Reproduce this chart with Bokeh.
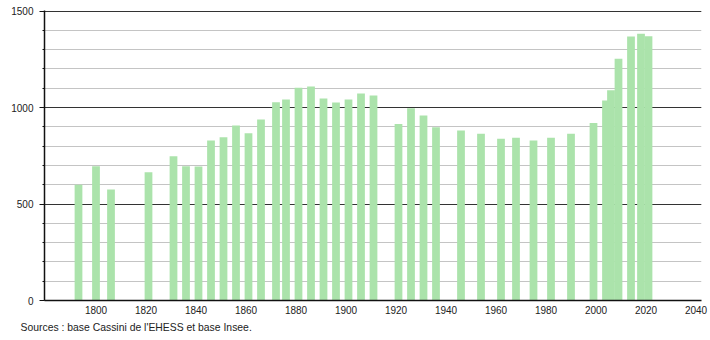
from bokeh.plotting import figure
from bokeh.models import FixedTicker, Title, Range1d
from bokeh.embed import file_html
from bokeh.resources import INLINE

years = [1793, 1800, 1806, 1821, 1831, 1836, 1841, 1846, 1851, 1856, 1861, 1866,
         1872, 1876, 1881, 1886, 1891, 1896, 1901, 1906, 1911, 1921, 1926, 1931,
         1936, 1946, 1954, 1962, 1968, 1975, 1982, 1990, 1999, 2004, 2006, 2009,
         2014, 2018, 2021]
population = [600, 696, 575, 665, 748, 696, 694, 829, 846, 907, 867, 938,
              1027, 1041, 1102, 1109, 1047, 1026, 1041, 1073, 1062, 915, 996, 958,
              898, 881, 864, 838, 843, 829, 843, 864, 920, 1036, 1090, 1252,
              1368, 1382, 1369]
x_ticks = [1800, 1820, 1840, 1860, 1880, 1900, 1920, 1940, 1960, 1980, 2000, 2020, 2040]
y_ticks = [0, 500, 1000, 1500]
y_minor = list(range(0, 1501, 100))
source_text = "Sources : base Cassini de l'EHESS et base Insee."

FONT = "Liberation Sans"

p = figure(width=710, height=340, output_backend="svg", toolbar_location=None,
           x_range=Range1d(1779.4, 2042.2), y_range=Range1d(0, 1502.6),
           min_border_left=44, min_border_right=9, min_border_top=10,
           min_border_bottom=40)
p.outline_line_color = None
p.background_fill_color = "white"
p.border_fill_color = "white"

p.vbar(x=years, top=population, width=3.1, bottom=0,
       fill_color="#abe3ab", line_color=None)

# axes
p.xaxis.ticker = FixedTicker(ticks=x_ticks)
p.xaxis.major_tick_out = 0
p.xaxis.major_tick_in = 0
p.xaxis.minor_tick_out = 0
p.xaxis.minor_tick_in = 0
p.xaxis.axis_line_color = "#111111"
p.xaxis.axis_line_width = 1.5
p.xaxis.major_label_standoff = 5

p.yaxis.ticker = FixedTicker(ticks=y_ticks, minor_ticks=y_minor)
p.yaxis.major_tick_out = 5
p.yaxis.major_tick_in = 0
p.yaxis.minor_tick_out = 2
p.yaxis.minor_tick_in = 0
p.yaxis.axis_line_color = "#111111"
p.yaxis.axis_line_width = 1.5
p.yaxis.major_tick_line_color = "#111111"
p.yaxis.minor_tick_line_color = "#111111"
p.yaxis.major_label_standoff = 6

for ax in (p.xaxis, p.yaxis):
    ax.major_label_text_font = FONT
    ax.major_label_text_font_size = "10px"
    ax.major_label_text_color = "#222222"

p.xgrid.visible = False
p.ygrid.ticker = FixedTicker(ticks=y_ticks, minor_ticks=y_minor)
p.ygrid.grid_line_color = "#333333"
p.ygrid.grid_line_width = 1.2
p.ygrid.minor_grid_line_color = "#c4c4c4"
p.ygrid.minor_grid_line_width = 1
p.ygrid.level = "underlay"

src = Title(text=source_text, align="left", offset=-24, standoff=7,
            text_font=FONT, text_font_size="10.4px", text_font_style="normal",
            text_color="#222222")
p.add_layout(src, "below")

open("out.html", "w").write(file_html(p, INLINE))
